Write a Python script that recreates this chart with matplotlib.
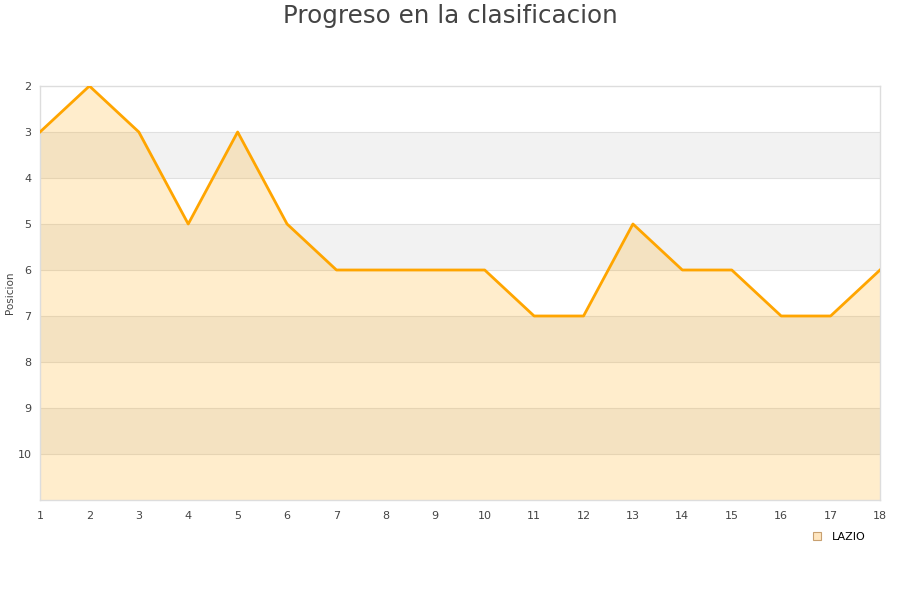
import matplotlib
matplotlib.use("Agg")
import matplotlib.pyplot as plt
from matplotlib.lines import Line2D

jornadas = list(range(1, 19))
posiciones = [3, 2, 3, 5, 3, 5, 6, 6, 6, 6, 7, 7, 5, 6, 6, 7, 7, 6]
y_ticks = [2, 3, 4, 5, 6, 7, 8, 9, 10]
equipo = "LAZIO"
titulo = "Progreso en la clasificacion"
eje_y = "Posicion"

fig = plt.figure(figsize=(9, 6), dpi=100)
ax = fig.add_axes([40/900, 1-500/600, 840/900, 414/600])

ax.set_xlim(1, 18)
ax.set_ylim(11, 2)

for b in (3, 5, 7, 9):
    ax.axhspan(b, b + 1, color="#f2f2f2", zorder=0, lw=0)
for t in range(3, 11):
    ax.axhline(t, color="#e0e0e0", lw=0.8, zorder=1)

ax.fill_between(jornadas, posiciones, 11, color="orange", alpha=0.2, lw=0, zorder=2)
ax.plot(jornadas, posiciones, color="orange", lw=2, zorder=3)

ax.set_xticks(jornadas)
ax.set_yticks(y_ticks)
ax.tick_params(length=0, colors="#444444", labelsize=8, pad=8)
ax.tick_params(axis="y", pad=6)
for s in ax.spines.values():
    s.set_color("#dddddd")
    s.set_linewidth(1)

fig.text(10/900, 1-293/600, eje_y, rotation=90, ha="center", va="center",
         fontsize=7.5, color="#444444")

fig.text(0.5, 1-16/600, titulo, ha="center", va="center", fontsize=17.7, color="#444444")

handle = Line2D([], [], marker="s", linestyle="none", markersize=6,
                markerfacecolor="#ffe6c0", markeredgecolor="#c8a070", markeredgewidth=0.8)
fig.legend([handle], [equipo], loc="center", bbox_to_anchor=(836/900, 1-537/600),
           frameon=False, fontsize=8, handletextpad=0.3)

fig.savefig("out.png", dpi=100, facecolor="white")
